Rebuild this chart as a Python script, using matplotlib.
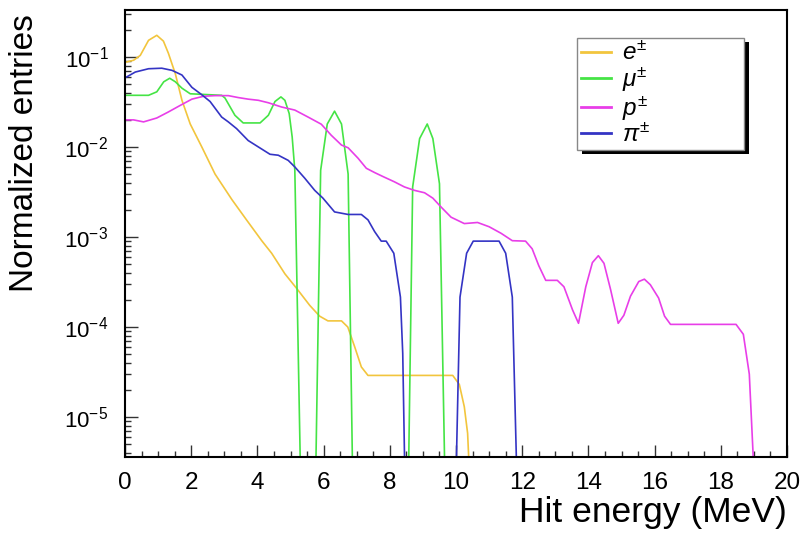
import matplotlib
matplotlib.use("Agg")
import matplotlib.pyplot as plt
import matplotlib.patheffects as pe
from matplotlib.ticker import MultipleLocator, LogLocator, LogFormatterSciNotation, NullFormatter
import numpy as np

plt.rcParams['font.family'] = ['Liberation Sans', 'DejaVu Sans']
plt.rcParams['mathtext.fontset'] = 'custom'
plt.rcParams['mathtext.rm'] = 'Liberation Sans'
plt.rcParams['mathtext.it'] = 'Liberation Sans:italic'
plt.rcParams['mathtext.default'] = 'regular'

# hit energy spectra (MeV), zero = empty bin
e_x = [0.05, 0.26, 0.46, 0.71, 0.96, 1.16, 1.31, 1.52, 1.72, 1.97, 2.32, 2.72, 3.23, 3.67,
       4.13, 4.43, 4.83, 5.18, 5.58, 5.88, 6.13, 6.54, 6.73, 6.94, 7.14, 7.34, 9.9, 10.1,
       10.25, 10.35, 10.45]
e_y = [0.088, 0.092, 0.104, 0.153, 0.174, 0.150, 0.110, 0.065, 0.033, 0.018, 0.010, 0.005,
       0.0026, 0.00155, 0.00091, 0.00066, 0.00039, 0.00027, 0.000174, 0.000132, 0.000117,
       0.000117, 0.0001, 0.00006, 0.000036, 0.000029, 0.000029, 0.000023, 0.000013,
       0.0000066, 0]

mu_x = [0.05, 0.71, 0.96, 1.17, 1.35, 1.52, 1.72, 1.97, 2.92, 3.02, 3.32, 3.57, 4.08, 4.33,
        4.53, 4.71, 4.83, 4.96, 5.05, 5.13, 5.32, 5.745, 5.91, 6.11, 6.33, 6.54, 6.74, 6.89,
        8.55, 8.69, 8.9, 9.13, 9.3, 9.5, 9.68]
mu_y = [0.0375, 0.0375, 0.041, 0.053, 0.058, 0.053, 0.045, 0.039, 0.0375, 0.035, 0.0225,
        0.0185, 0.0185, 0.0225, 0.032, 0.036, 0.033, 0.0235, 0.0129, 0.0055, 0, 0, 0.0055,
        0.018, 0.025, 0.018, 0.005, 0, 0, 0.0036, 0.0124, 0.018, 0.0124, 0.0039, 0]

p_x = [0.05, 0.26, 0.56, 0.96, 1.31, 1.67, 2.02, 2.37, 2.72, 3.12, 3.42, 3.72, 4.03, 4.33,
       4.73, 5.13, 5.53, 5.93, 6.23, 6.54, 6.74, 7.04, 7.29, 7.54, 7.79, 8.14, 8.44, 8.74,
       9.05, 9.3, 9.55, 9.85, 10.25, 10.65, 11.0, 11.36, 11.7, 12.1, 12.3, 12.5, 12.71,
       13.06, 13.26, 13.52, 13.7, 13.92, 14.12, 14.3, 14.47, 14.67, 14.9, 15.07, 15.27,
       15.52, 15.69, 15.87, 16.12, 16.3, 16.48, 18.46, 18.68, 18.86, 19.05]
p_y = [0.020, 0.020, 0.019, 0.021, 0.0245, 0.029, 0.034, 0.0366, 0.0372, 0.0372, 0.0354,
       0.034, 0.033, 0.031, 0.0278, 0.0257, 0.0215, 0.0179, 0.0135, 0.0105, 0.0098, 0.0075,
       0.0058, 0.0052, 0.0047, 0.0041, 0.0036, 0.0033, 0.0031, 0.0027, 0.00215, 0.00166,
       0.00141, 0.00145, 0.0013, 0.0011, 0.00091, 0.0009, 0.00074, 0.00048, 0.00033,
       0.00033, 0.00028, 0.000155, 0.00011, 0.00028, 0.00052, 0.00062, 0.00051, 0.00026,
       0.00011, 0.000135, 0.00022, 0.00032, 0.00034, 0.000295, 0.00021, 0.000132,
       0.000107, 0.000107, 0.000083, 0.00003, 0]

pi_x = [0.05, 0.31, 0.71, 1.11, 1.42, 1.72, 2.02, 2.32, 2.57, 2.92, 3.12, 3.37, 3.72, 4.03,
        4.38, 4.63, 4.93, 5.13, 5.43, 5.73, 5.98, 6.33, 6.74, 7.14, 7.34, 7.54, 7.74, 7.89,
        8.12, 8.32, 8.39, 8.47, 9.98, 10.12, 10.32, 10.52, 11.3, 11.5, 11.7, 11.86]
pi_y = [0.06, 0.068, 0.074, 0.075, 0.071, 0.063, 0.046, 0.038, 0.032, 0.0215, 0.019, 0.016,
        0.0118, 0.01, 0.0083, 0.0081, 0.0071, 0.006, 0.0045, 0.0033, 0.0027, 0.0019,
        0.00178, 0.00178, 0.00155, 0.00115, 0.0009, 0.0009, 0.00066, 0.000215, 0.000051,
        0, 0, 0.000215, 0.00066, 0.0009, 0.0009, 0.00066, 0.000215, 0]

series = [
    (e_x, e_y, '#f2c53d', r'$\mathit{e}^{\pm}$'),
    (mu_x, mu_y, '#45e445', r'$\mathit{\mu}^{\pm}$'),
    (p_x, p_y, '#e83ee8', r'$\mathit{p}^{\pm}$'),
    (pi_x, pi_y, '#3434c4', r'$\mathit{\pi}^{\pm}$'),
]

fig = plt.figure(figsize=(8.04, 5.37), dpi=100)
ax = fig.add_axes([0.1555, 0.149, 0.8234, 0.8325])

for x, y, c, lab in series:
    # empty bins drawn as a drop below the frame
    yy = np.clip(np.array(y, dtype=float), 1e-6, None)
    ax.plot(x, yy, color=c, lw=1.2, label=lab)

ax.set_yscale('log')
ax.set_xlim(0, 20)
ax.set_ylim(3.6e-6, 0.333)

ax.xaxis.set_major_locator(MultipleLocator(2))
ax.xaxis.set_minor_locator(MultipleLocator(0.5))
ax.yaxis.set_major_locator(LogLocator(base=10, numticks=10))
ax.yaxis.set_minor_locator(LogLocator(base=10, subs=np.arange(2, 10), numticks=20))
ax.yaxis.set_major_formatter(LogFormatterSciNotation())
ax.yaxis.set_minor_formatter(NullFormatter())

ax.tick_params(which='both', direction='in', top=False, right=False, width=1.0, color='#333333')
ax.tick_params(which='major', length=9)
ax.tick_params(which='minor', length=4.5)
ax.tick_params(axis='x', labelsize=17.5, pad=11)
ax.tick_params(axis='y', labelsize=16, pad=12)
for s in ax.spines.values():
    s.set_linewidth(1.5)

ax.set_ylabel('Normalized entries', fontsize=24, loc='top')
ax.yaxis.set_label_coords(-0.128, 0.99)
ax.set_xlabel('Hit energy (MeV)', fontsize=25.5, loc='right')
ax.xaxis.set_label_coords(1.0, -0.088)

leg = ax.legend(loc='upper left', bbox_to_anchor=(0.683, 0.937, 0.252, 0.0), mode='expand',
                borderaxespad=0, fontsize=17.5, handlelength=1.25, handletextpad=0.45,
                labelspacing=0.02, borderpad=0.15, fancybox=False, framealpha=1)
frame = leg.get_frame()
frame.set_edgecolor('#888888')
frame.set_linewidth(1.0)
frame.set_path_effects([pe.SimplePatchShadow(offset=(3.6, -2.9), shadow_rgbFace='black', alpha=1),
                        pe.Normal()])
for line in leg.get_lines():
    line.set_linewidth(2.0)

fig.savefig('out.png', dpi=100)
